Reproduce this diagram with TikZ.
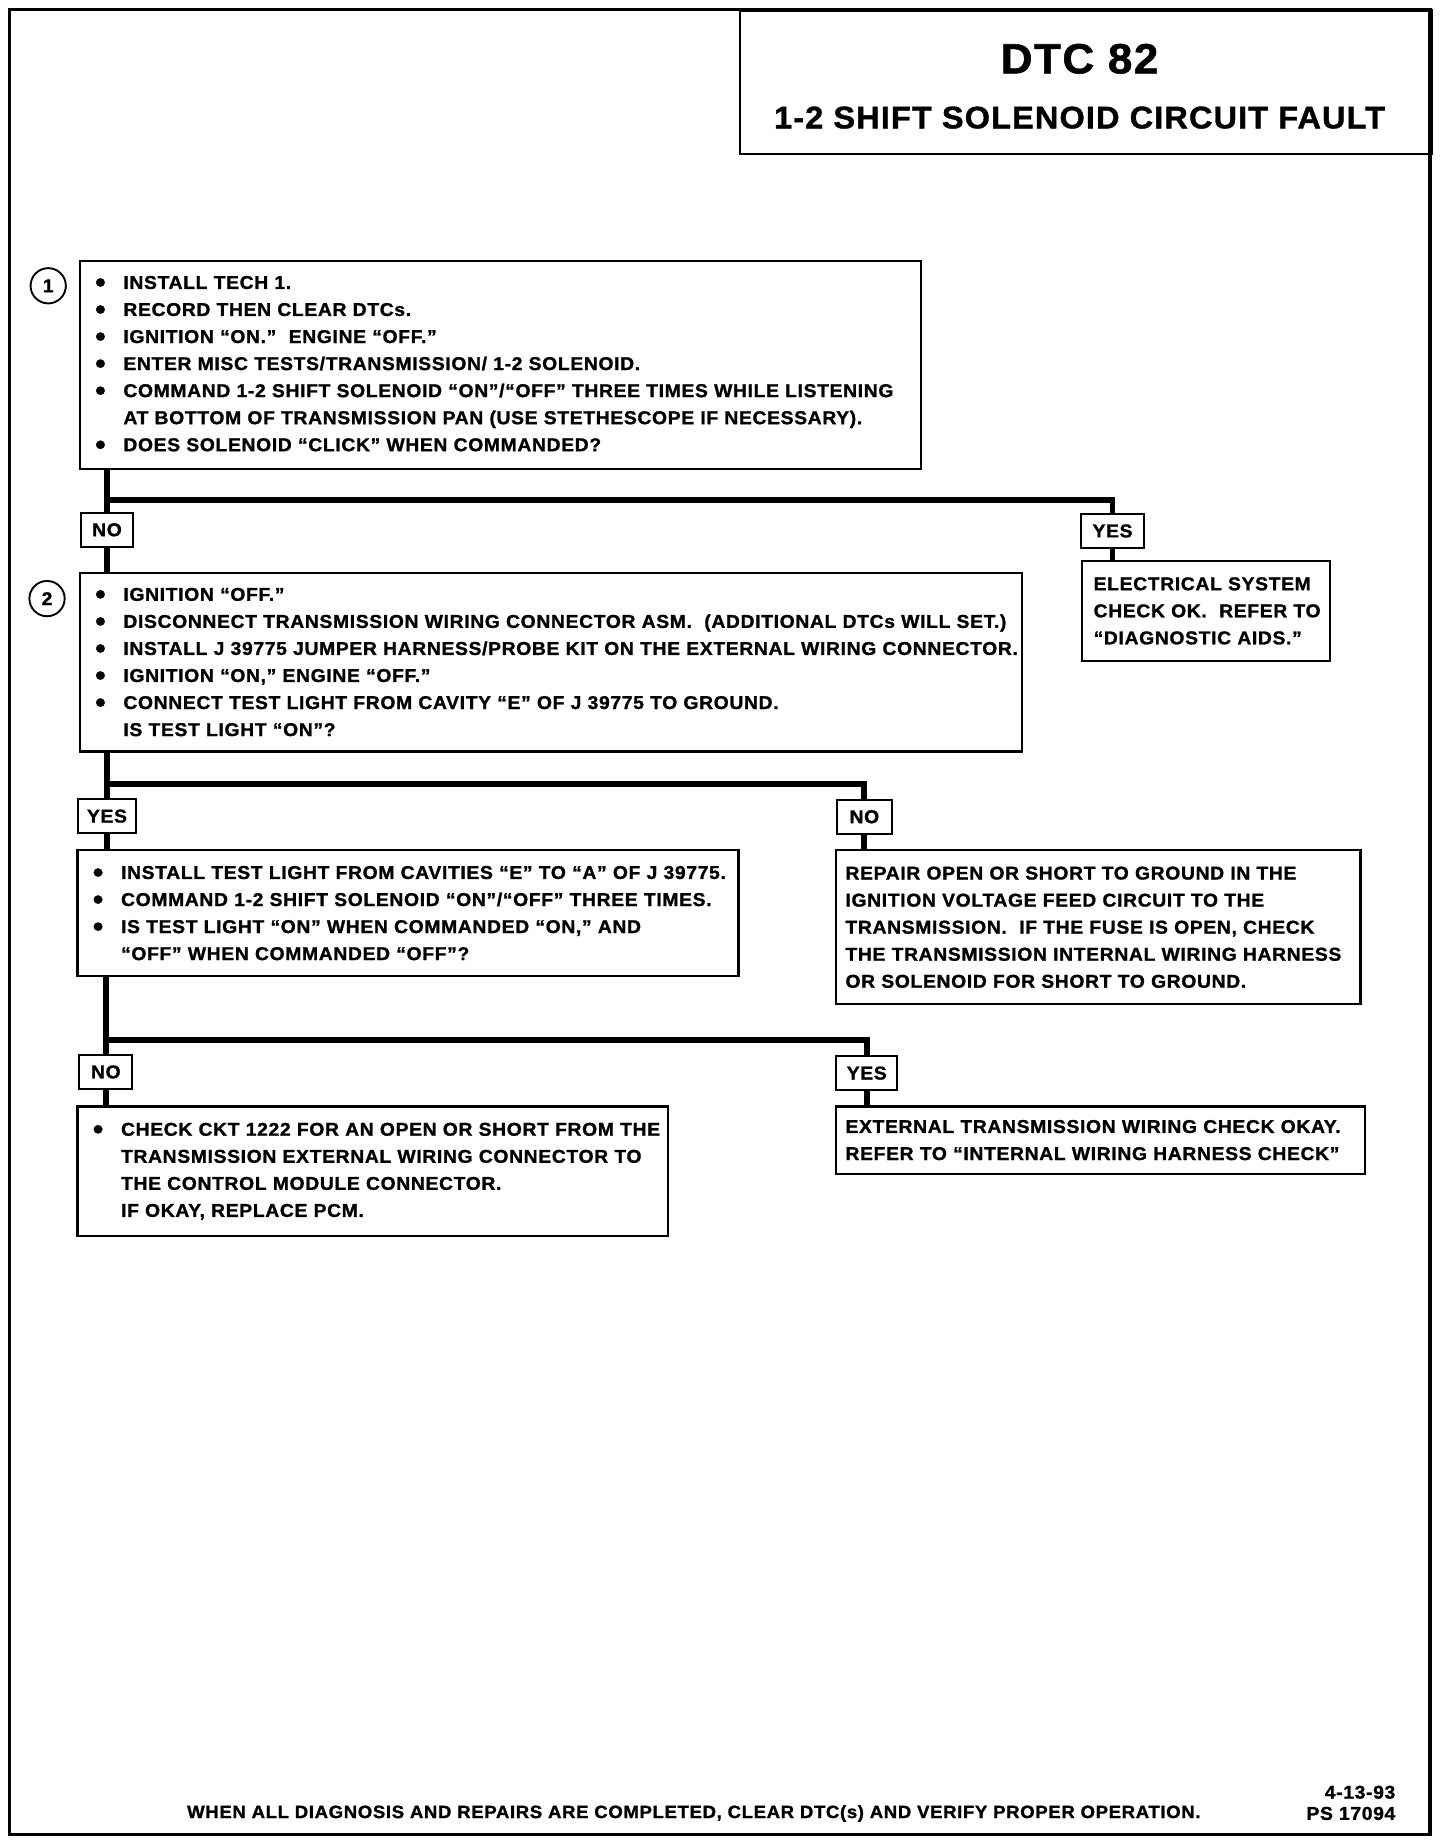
\documentclass[tikz,border=0pt]{standalone}
\usepackage{fontspec}
\setmainfont{Liberation Sans}[LetterSpace=3.5,FakeStretch=1.04,FakeBold=1.2]
\usetikzlibrary{positioning}

% one line of a step, with or without a bullet
\newcommand{\bul}[1]{\makebox[24pt][l]{\raisebox{-2.6pt}{\scalebox{1.55}{\textbullet}}}\mbox{#1}}
\newcommand{\ind}[1]{\hspace*{24pt}\mbox{#1}}
\newcommand{\row}[1]{\mbox{#1}}

\tikzset{
  chart/.style={font=\fontsize{15.8}{23}\selectfont\bfseries},
  stepbox/.style={chart, draw, line width=1.9pt, anchor=north west, align=left, inner xsep=13pt, inner ysep=0pt},
  answer/.style={chart, draw, line width=1.9pt, inner sep=0pt, minimum height=29pt},
  stepnum/.style={chart, draw, circle, line width=1.6pt, minimum size=30pt, inner sep=0pt},
  link/.style={line width=5pt},
}

\begin{document}
\begin{tikzpicture}[x=1pt, y=-1pt]

  \useasboundingbox (0,0) rectangle (1224,1568);

  % Frame and title
  \draw[line width=3pt] (8,8) rectangle (1216,1560);
  \node[draw, line width=2.2pt, anchor=north west, minimum width=588pt, minimum height=122pt, inner sep=0pt] (titlebox) at (628,8) {};
  \node[font=\fontsize{36}{40}\selectfont\bfseries] (dtcnum) at (918,50) {DTC 82};
  \node[font=\fontsize{26.6}{30}\selectfont\bfseries] (dtcname) at (918,100) {1-2 SHIFT SOLENOID CIRCUIT FAULT};

  % Step 1
  \node[stepbox, text width=689pt, minimum height=177pt] (step1) at (67,221) {%
    \bul{INSTALL TECH 1.}\\
    \bul{RECORD THEN CLEAR DTCs.}\\
    \bul{IGNITION “ON.”\ \ ENGINE “OFF.”}\\
    \bul{ENTER MISC TESTS/TRANSMISSION/ 1-2 SOLENOID.}\\
    \bul{COMMAND 1-2 SHIFT SOLENOID “ON”/“OFF” THREE TIMES WHILE LISTENING}\\
    \ind{AT BOTTOM OF TRANSMISSION PAN (USE STETHESCOPE IF NECESSARY).}\\
    \bul{DOES SOLENOID “CLICK” WHEN COMMANDED?}};
  \node[stepnum] (num1) at (41,243) {1};

  \node[answer, minimum width=44pt] (no1) at (91,450.5) {NO};
  \node[answer, minimum width=54pt] (yes1) at (946,451.5) {YES};
  \node[stepbox, inner xsep=10pt, text width=191pt, minimum height=85pt] (ok1) at (919,476) {%
    \row{ELECTRICAL SYSTEM}\\
    \row{CHECK OK.\ \ REFER TO}\\
    \row{“DIAGNOSTIC AIDS.”}};

  % Step 2
  \node[stepbox, text width=775pt, minimum height=152pt] (step2) at (67,486) {%
    \bul{IGNITION “OFF.”}\\
    \bul{DISCONNECT TRANSMISSION WIRING CONNECTOR ASM.\ \ (ADDITIONAL DTCs WILL SET.)}\\
    \bul{INSTALL J 39775 JUMPER HARNESS/PROBE KIT ON THE EXTERNAL WIRING CONNECTOR.}\\
    \bul{IGNITION “ON,” ENGINE “OFF.”}\\
    \bul{CONNECT TEST LIGHT FROM CAVITY “E” OF J 39775 TO GROUND.}\\
    \ind{IS TEST LIGHT “ON”?}};
  \node[stepnum] (num2) at (40,509) {2};

  \node[answer, minimum width=49pt] (yes2) at (91,694) {YES};
  \node[answer, minimum width=47pt] (no2) at (735,694.5) {NO};

  \node[stepbox, text width=536pt, minimum height=107pt] (step3) at (65,722) {%
    \bul{INSTALL TEST LIGHT FROM CAVITIES “E” TO “A” OF J 39775.}\\
    \bul{COMMAND 1-2 SHIFT SOLENOID “ON”/“OFF” THREE TIMES.}\\
    \bul{IS TEST LIGHT “ON” WHEN COMMANDED “ON,” AND}\\
    \ind{“OFF” WHEN COMMANDED “OFF”?}};
  \node[stepbox, inner xsep=8pt, text width=430pt, minimum height=131pt] (repair2) at (710,722) {%
    \row{REPAIR OPEN OR SHORT TO GROUND IN THE}\\
    \row{IGNITION VOLTAGE FEED CIRCUIT TO THE}\\
    \row{TRANSMISSION.\ \ IF THE FUSE IS OPEN, CHECK}\\
    \row{THE TRANSMISSION INTERNAL WIRING HARNESS}\\
    \row{OR SOLENOID FOR SHORT TO GROUND.}};

  % Step 3 answers
  \node[answer, minimum width=45pt] (no3) at (90,911.5) {NO};
  \node[answer, minimum width=52pt] (yes3) at (737,912.5) {YES};

  \node[stepbox, text width=476pt, minimum height=110pt] (ckt3) at (65,940) {%
    \bul{CHECK CKT 1222 FOR AN OPEN OR SHORT FROM THE}\\
    \ind{TRANSMISSION EXTERNAL WIRING CONNECTOR TO}\\
    \ind{THE CONTROL MODULE CONNECTOR.}\\
    \ind{IF OKAY, REPLACE PCM.}};
  \node[stepbox, inner xsep=8pt, text width=434pt, minimum height=57pt] (ext3) at (710,940) {%
    \row{EXTERNAL TRANSMISSION WIRING CHECK OKAY.}\\
    \row{REFER TO “INTERNAL WIRING HARNESS CHECK”}};

  % Connectors
  \coordinate (fork1) at (no1 |- 0,425);
  \coordinate (fork2) at (yes2 |- 0,667);
  \coordinate (fork3) at (no3 |- 0,884);

  \draw[link] (step1.south -| no1) -- (no1.north);
  \draw[link] (no1.south) -- (step2.north -| no1);
  \draw[link] (fork1) -| (yes1.north);
  \draw[link] (yes1.south) -- (ok1.north -| yes1);

  \draw[link] (step2.south -| yes2) -- (yes2.north);
  \draw[link] (yes2.south) -- (step3.north -| yes2);
  \draw[link] (fork2) -| (no2.north);
  \draw[link] (no2.south) -- (repair2.north -| no2);

  \draw[link] (step3.south -| no3) -- (no3.north);
  \draw[link] (no3.south) -- (ckt3.north -| no3);
  \draw[link] (fork3) -| (yes3.north);
  \draw[link] (yes3.south) -- (ext3.north -| yes3);

  % Footer
  \node[chart, font=\fontsize{15.2}{20}\selectfont\bfseries] (footnote) at (590,1542) {WHEN ALL DIAGNOSIS AND REPAIRS ARE COMPLETED, CLEAR DTC(s) AND VERIFY PROPER OPERATION.};
  \node[chart, anchor=east] (date) at (1190,1524) {4-13-93};
  \node[chart, anchor=east] (psnum) at (1190,1542) {PS 17094};

\end{tikzpicture}
\end{document}
